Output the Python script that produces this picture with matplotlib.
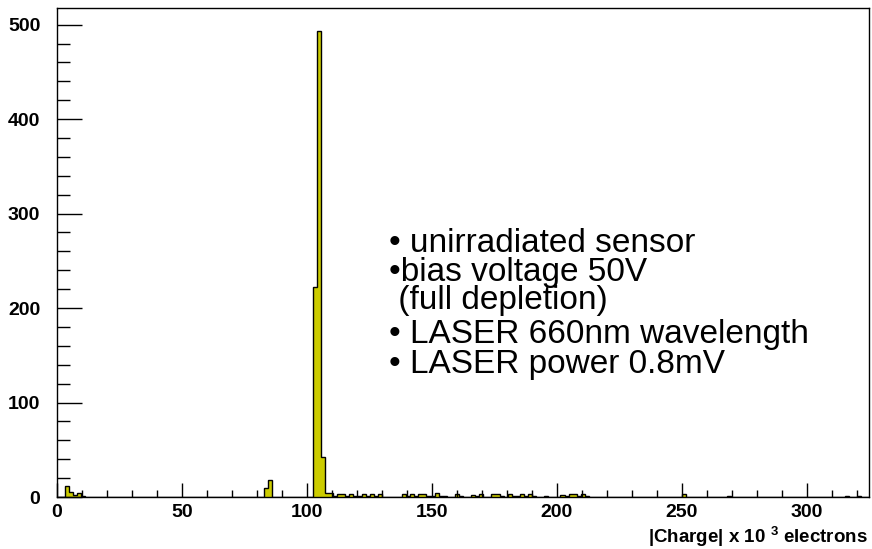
import numpy as np
import matplotlib
matplotlib.use("Agg")
import matplotlib.pyplot as plt
from matplotlib.ticker import MultipleLocator

plt.rcParams['font.family'] = ['Liberation Sans', 'DejaVu Sans']
plt.rcParams['mathtext.fontset'] = 'custom'
plt.rcParams['mathtext.bf'] = 'Liberation Sans:bold'
plt.rcParams['mathtext.rm'] = 'Liberation Sans:bold'

# histogram: 200 bins over 0..325 (x 10^3 electrons)
n_bins = 200
x_min, x_max = 0, 325

# non-empty bins (bin index, entries)
filled_bins = [2, 3, 4, 5, 6,
               51, 52,
               63, 64, 65, 66, 67, 68, 69, 70, 71, 72, 73, 74, 75, 76, 77, 78, 79,
               85, 86, 87, 88, 89, 90, 91, 92, 93, 94, 95,
               98, 99, 102, 103, 104, 107, 108, 109, 111, 112, 113, 114, 115, 116, 117,
               120, 124, 125, 126, 127, 128, 129, 130,
               154, 165, 194, 197]
filled_counts = [12, 5, 2, 4, 1,
                 9, 18,
                 222, 493, 42, 4, 4, 1, 3, 3, 1, 3, 1, 1, 3, 1, 3, 1, 3,
                 3, 1, 3, 1, 3, 3, 1, 1, 4, 1, 1,
                 3, 1, 2, 1, 3, 3, 3, 1, 3, 1, 1, 3, 1, 3, 1,
                 1, 2, 1, 3, 3, 1, 3, 1,
                 3, 1, 1, 1]

notes = ["• unirradiated sensor",
         "•bias voltage 50V",
         " (full depletion)",
         "• LASER 660nm wavelength",
         "• LASER power 0.8mV"]

edges = np.linspace(x_min, x_max, n_bins + 1)
counts = np.zeros(n_bins)
counts[filled_bins] = filled_counts

W, H = 872, 549
fig = plt.figure(figsize=(W / 100, H / 100), dpi=100)
ax = fig.add_axes([57 / W, (H - 497) / H, (869 - 57) / W, (497 - 8) / H])

ax.stairs(counts, edges, fill=True, facecolor="#cccc00", edgecolor="none")
ax.stairs(counts, edges, color="black", linewidth=1.0)

ax.set_xlim(x_min, x_max)
ax.set_ylim(0, counts.max() * 1.05)

ax.xaxis.set_major_locator(MultipleLocator(50))
ax.xaxis.set_minor_locator(MultipleLocator(10))
ax.yaxis.set_major_locator(MultipleLocator(100))
ax.yaxis.set_minor_locator(MultipleLocator(20))

ax.tick_params(axis="x", which="major", direction="in", length=10, width=1, pad=5,
               top=False, labelsize=14)
ax.tick_params(axis="x", which="minor", direction="in", length=5, width=1, top=False)
ax.tick_params(axis="y", which="major", direction="in", length=18, width=1, pad=12,
               right=False, labelsize=14)
ax.tick_params(axis="y", which="minor", direction="in", length=9, width=1, right=False)
for lab in ax.get_xticklabels() + ax.get_yticklabels():
    lab.set_fontweight("bold")
for sp in ax.spines.values():
    sp.set_linewidth(1.0)

fig.text(868 / W, 1 - 537 / H, r"|Charge| x 10 $^{\mathbf{3}}$ electrons",
         ha="right", va="center", fontsize=13.5, fontweight="bold")

note_y = [244, 272, 300, 334, 365]
for txt, yy in zip(notes, note_y):
    fig.text(389 / W, 1 - yy / H, txt, ha="left", va="center", fontsize=24)

fig.savefig("out.png", dpi=100)
